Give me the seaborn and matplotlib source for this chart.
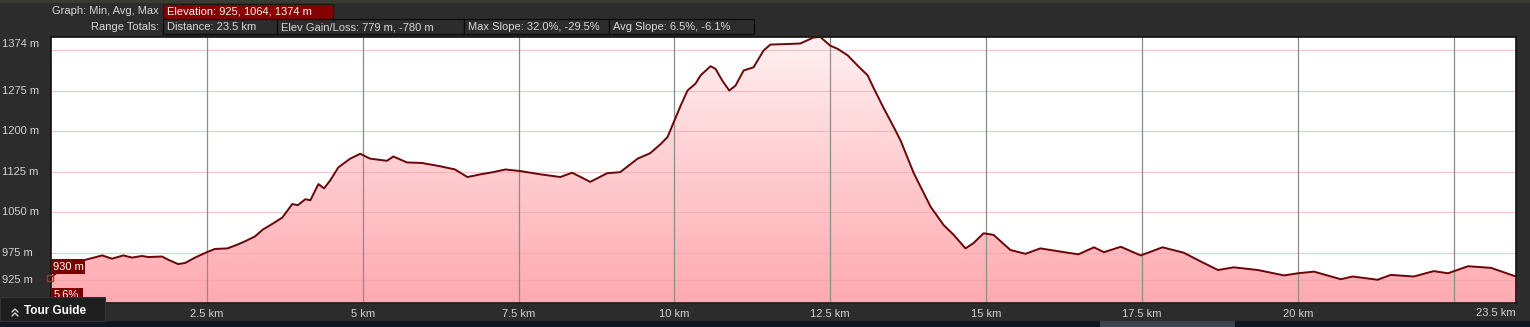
import numpy as np
import pandas as pd
import matplotlib
matplotlib.use("Agg")
import matplotlib.pyplot as plt
import matplotlib.transforms as mtransforms
import seaborn as sns
from matplotlib.colors import LinearSegmentedColormap
from matplotlib.patches import Rectangle

# ---- data -------------------------------------------------------------
distance_km = [0.00, 0.06, 0.30, 0.59, 0.82, 0.98, 1.16, 1.30, 1.46, 1.56, 1.78, 1.88,
               2.04, 2.15, 2.31, 2.50, 2.63, 2.83, 2.99, 3.11, 3.27, 3.40, 3.56, 3.71,
               3.87, 3.96, 4.08, 4.16, 4.29, 4.38, 4.48, 4.61, 4.80, 4.96, 5.12, 5.39,
               5.49, 5.71, 5.95, 6.24, 6.48, 6.68, 6.89, 7.09, 7.29, 7.53, 7.85, 8.17,
               8.36, 8.65, 8.92, 9.13, 9.41, 9.61, 9.78, 9.89, 9.98, 10.10, 10.21, 10.34,
               10.42, 10.58, 10.66, 10.77, 10.88, 10.98, 11.11, 11.27, 11.43, 11.54, 11.81,
               12.02, 12.23, 12.34, 12.50, 12.62, 12.78, 12.94, 13.10, 13.19, 13.35, 13.52,
               13.63, 13.84, 14.11, 14.32, 14.48, 14.67, 14.80, 14.96, 15.12, 15.39, 15.63,
               15.87, 16.20, 16.48, 16.73, 16.89, 17.16, 17.48, 17.83, 18.17, 18.44, 18.72,
               18.97, 19.36, 19.78, 20.00, 20.26, 20.69, 20.88, 21.28, 21.49, 21.86, 22.18,
               22.41, 22.73, 23.10, 23.50]
elevation_m = [930, 935, 955, 963, 970, 964, 970, 966, 969, 967, 968, 962,
               954, 956, 966, 976, 982, 983, 990, 996, 1005, 1018, 1029, 1040,
               1065, 1063, 1074, 1072, 1102, 1094, 1109, 1133, 1149, 1158, 1149, 1145,
               1153, 1142, 1141, 1135, 1129, 1115, 1120, 1124, 1129, 1126, 1120, 1115,
               1123, 1106, 1122, 1124, 1149, 1159, 1176, 1189, 1214, 1247, 1275, 1288,
               1303, 1320, 1315, 1293, 1275, 1284, 1312, 1318, 1349, 1360, 1361,
               1362, 1373, 1374, 1358, 1352, 1340, 1321, 1303, 1281, 1244, 1207,
               1182, 1122, 1060, 1026, 1008, 983, 993, 1011, 1008, 980, 973,
               983, 977, 972, 985, 976, 986, 970, 985, 975, 959, 943,
               948, 943, 933, 937, 940, 926, 931, 925, 934, 931, 941,
               937, 950, 947, 931]

y_grid = [1350, 1275, 1200, 1125, 1050, 975, 925]
y_label_values = [1275, 1200, 1125, 1050, 975, 925]
y_top_label = "1374 m"
x_grid = [2.5, 5, 7.5, 10, 12.5, 15, 17.5, 20, 22.5]
x_labels = ["2.5 km", "5 km", "7.5 km", "10 km", "12.5 km", "15 km", "17.5 km", "20 km", ""]
x_end_label = "23.5 km"
header_row1 = ("Graph: Min, Avg, Max", "Elevation: 925, 1064, 1374 m")
header_row2_label = "Range Totals:"
header_row2 = ["Distance: 23.5 km", "Elev Gain/Loss: 779 m, -780 m",
               "Max Slope: 32.0%, -29.5%", "Avg Slope: 6.5%, -6.1%"]

df = pd.DataFrame({"km": distance_km, "elev": elevation_m})

# ---- figure -----------------------------------------------------------
W, H = 1530, 327
sns.set_style("white")
plt.rcParams["font.family"] = ["Liberation Sans", "DejaVu Sans"]
fig = plt.figure(figsize=(W / 100, H / 100), dpi=100, facecolor="#2c2c2c")

def fx(px):
    return px / W

def fy(py):
    return 1 - py / H

# decorative strips
fig.patches.append(Rectangle((0, fy(3)), 1, 3 / H, transform=fig.transFigure,
                             facecolor="#3a3c32", edgecolor="none", zorder=0))
fig.patches.append(Rectangle((0, 0), 1, 6 / H, transform=fig.transFigure,
                             facecolor="#0f1622", edgecolor="none", zorder=0))
fig.patches.append(Rectangle((fx(1100), 0), 135 / W, 6 / H, transform=fig.transFigure,
                             facecolor="#3b4250", edgecolor="none", zorder=0))

ymin, ymax = 882, 1374
ax = fig.add_axes([fx(51), fy(303), 1465 / W, 266 / H])
ax.set_facecolor("white")
ax.set_xlim(0, 23.5)
ax.set_ylim(ymin, ymax)

# gradient fill under the curve
fill = ax.fill_between(df["km"], df["elev"], ymin, color="#ffb3b8", lw=0, zorder=1)
cmap = LinearSegmentedColormap.from_list("pinkgrad", ["#ffaab0", "#fff0f1"])
grad = np.linspace(0, 1, 256).reshape(-1, 1)
im = ax.imshow(grad, extent=[0, 23.5, ymin, ymax], origin="lower", aspect="auto",
               cmap=cmap, zorder=1.1, interpolation="bilinear")
im.set_clip_path(fill.get_paths()[0], transform=ax.transData)

# grid
for g in y_grid:
    ax.axhline(g, color="#e8a8ab", lw=0.8, alpha=0.65, zorder=1.5)
for g in x_grid:
    ax.axvline(g, color="#8c8c8c", lw=0.9, zorder=1.6)

sns.lineplot(data=df, x="km", y="elev", ax=ax, color="#6a0508", lw=1.4, zorder=3)

ax.set_xlabel("")
ax.set_ylabel("")
ax.set_yticks(y_grid)
ax.set_yticklabels([])
ax.set_xticks(x_grid)
ax.set_xticklabels(x_labels)
ax.tick_params(axis="both", length=0, colors="#d2d2d2", labelsize=8)
ax.tick_params(axis="x", pad=4)
for s in ax.spines.values():
    s.set_color("#111111")
    s.set_linewidth(1.2)

# y labels, left-aligned at the figure edge
ytrans = mtransforms.blended_transform_factory(fig.transFigure, ax.transData)
for v in y_label_values:
    fig.text(fx(2), v, f"{v} m", transform=ytrans, color="#d2d2d2", fontsize=8,
             ha="left", va="center")
fig.text(fx(2), fy(44), y_top_label, color="#d2d2d2", fontsize=8, ha="left", va="center")
fig.text(fx(1516), fy(313), x_end_label, color="#d2d2d2", fontsize=8, ha="right", va="center")

# header
fig.text(fx(159), fy(11), header_row1[0], color="#d8d8d8", fontsize=8, ha="right", va="center")
fig.patches.append(Rectangle((fx(163), fy(19)), 170 / W, 15 / H, transform=fig.transFigure,
                             facecolor="#860000", edgecolor="#1a1a1a", lw=0.8, zorder=1))
fig.text(fx(167), fy(11), header_row1[1], color="#f2f2f2", fontsize=8, ha="left", va="center")

fig.text(fx(159), fy(27), header_row2_label, color="#d8d8d8", fontsize=8, ha="right", va="center")
edges = [163, 277, 464, 609, 754]
for i, t in enumerate(header_row2):
    x0, x1 = edges[i], edges[i + 1]
    fig.patches.append(Rectangle((fx(x0), fy(34)), (x1 - x0) / W, 15 / H,
                                 transform=fig.transFigure, facecolor="#2c2c2c",
                                 edgecolor="#0a0a0a", lw=0.9, zorder=1))
    fig.text(fx(x0 + 4), fy(27), t, color="#d8d8d8", fontsize=8, ha="left", va="center")

# left markers
fig.patches.append(Rectangle((fx(51), fy(274)), 34 / W, 15 / H, transform=fig.transFigure,
                             facecolor="#7a0000", edgecolor="none", zorder=5))
fig.text(fx(53), fy(266.5), "930 m", color="white", fontsize=8, ha="left", va="center", zorder=6)
fig.patches.append(Rectangle((fx(51), fy(302)), 32 / W, 14 / H, transform=fig.transFigure,
                             facecolor="#7a0000", edgecolor="none", zorder=5))
fig.text(fx(54), fy(295), "5.6%", color="white", fontsize=8, ha="left", va="center", zorder=6)
fig.patches.append(Rectangle((fx(47), fy(281)), 6 / W, 6 / H, transform=fig.transFigure,
                             facecolor="none", edgecolor="#d02020", lw=1, zorder=6))

# tour guide button
fig.patches.append(Rectangle((0, fy(321)), 105 / W, 24 / H, transform=fig.transFigure,
                             facecolor="#1e1e1e", edgecolor="#333333", lw=0.8, zorder=7))
for dy in (0, 4):
    fig.lines.append(plt.Line2D([fx(12), fx(15), fx(18)],
                                [fy(312 + dy), fy(309 + dy), fy(312 + dy)],
                                transform=fig.transFigure, color="#cfcfcf", lw=1.0, zorder=8))
fig.text(fx(24), fy(310.5), "Tour Guide", color="white", fontsize=8.5, fontweight="bold",
         ha="left", va="center", zorder=8)

fig.savefig("out.png", dpi=100, facecolor=fig.get_facecolor())
